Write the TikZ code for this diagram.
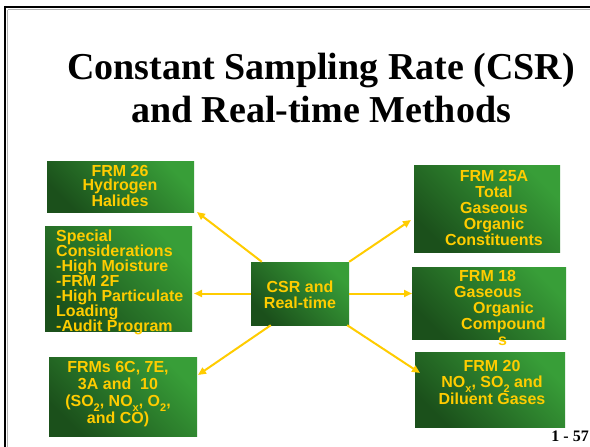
\documentclass[tikz,border=0pt]{standalone}
\usepackage{fontspec}
\setmainfont{Liberation Serif}
\newfontfamily\boxfont{Liberation Sans}
\usetikzlibrary{arrows.meta,calc}
\definecolor{gold}{RGB}{255,204,0}
\definecolor{gdark}{RGB}{27,80,27}
\definecolor{glight}{RGB}{56,158,56}
\newcommand{\mysub}[1]{\raisebox{-0.28em}{\fontsize{11}{11}\selectfont #1}}
\tikzset{
  gbox/.style={rectangle, inner sep=0pt, top color=glight, bottom color=gdark, shading angle=-45, draw=none},
  btxt/.style={inner sep=0pt, text=gold, font=\boxfont\bfseries\fontsize{16}{16}\selectfont},
  conn/.style={draw=gold, line width=2pt, -{Triangle[length=8pt,width=7pt]}},
  ttl/.style={inner sep=0pt, anchor=base, font=\bfseries\fontsize{38}{43}\selectfont}
}
\begin{document}
\begin{tikzpicture}[x=1pt,y=-1pt]
\useasboundingbox (0,0) rectangle (590,447);
\fill[white] (0,0) rectangle (590,447);
% frame
\draw[gray!60, line width=1pt] (7.5,9.5) -- (590,9.5);
\draw[gray!60, line width=1pt] (7.5,9.5) -- (7.5,447);
\draw[black, line width=2.5pt] (4,7) -- (590,7);
\draw[black, line width=2.5pt] (5.2,5.8) -- (5.2,447);

% title
\node[ttl] (title1) at (321,79) {Constant Sampling Rate (CSR)};
\node[ttl] (title2) at (321,122) {and Real-time Methods};

% boxes
\node[gbox, minimum width=98pt, minimum height=63pt] (csr) at (300,293.5) {};
\node[gbox, minimum width=147pt, minimum height=51pt] (b1) at (120.5,186.5) {};
\node[gbox, minimum width=147pt, minimum height=105pt] (b2) at (118.5,278.5) {};
\node[gbox, minimum width=148pt, minimum height=79pt] (b3) at (123,396.5) {};
\node[gbox, minimum width=146pt, minimum height=87pt] (b4) at (487,208.5) {};
\node[gbox, minimum width=154pt, minimum height=72pt] (b5) at (489,303) {};
\node[gbox, minimum width=150pt, minimum height=75pt] (b6) at (490,389.5) {};

% texts
\node[btxt, anchor=north, align=center, font=\boxfont\bfseries\fontsize{16}{16}\selectfont] (t0) at (300,280.4) {CSR and\\Real-time};
\node[btxt, anchor=north, align=center, font=\boxfont\bfseries\fontsize{16}{13.5}\selectfont] (t1) at (120,165.4) {FRM 26\\Hydrogen\\Halides};
\node[btxt, anchor=north west, align=left, font=\boxfont\bfseries\fontsize{16}{15}\selectfont] (t2) at (56,229.4) {Special\\Considerations\\-High Moisture\\-FRM 2F\\-High Particulate\\Loading\\-Audit Program};
\node[btxt, anchor=north, align=center, font=\boxfont\bfseries\fontsize{16}{17}\selectfont] (t3) at (118,361.4) {FRMs 6C, 7E,\\3A and~~10\\(SO\mysub{2}, NO\mysub{x}, O\mysub{2},\\and CO)};
\node[btxt, anchor=north, align=center, font=\boxfont\bfseries\fontsize{16}{16}\selectfont] (t4) at (494,170.4) {FRM 25A\\Total\\Gaseous\\Organic\\Constituents};
\node[btxt, anchor=north west, align=left, font=\boxfont\bfseries\fontsize{16}{16}\selectfont] (t5) at (454,270.4) {\hspace*{5pt}FRM 18\\Gaseous\\\hspace*{19pt}Organic\\\hspace*{7pt}Compound\\\hspace*{44pt}s};
\node[btxt, anchor=north, align=center, font=\boxfont\bfseries\fontsize{16}{16}\selectfont] (t6) at (492,360.4) {FRM 20\\NO\mysub{x}, SO\mysub{2} and\\Diluent Gases};

% connectors
\coordinate (p1) at (197,212);
\coordinate (p2) at (194,293.5);
\coordinate (p3) at (198,375);
\coordinate (p4) at (411,220);
\coordinate (p5) at (412,293.5);
\coordinate (p6) at (420,373);
\draw[conn] ($(csr.north west)+(11,0)$) -- (p1);
\draw[conn] (csr.west) -- (p2);
\draw[conn] ($(csr.south west)+(20,0)$) -- (p3);
\draw[conn] (csr.north east) -- (p4);
\draw[conn] (csr.east) -- (p5);
\draw[conn] ($(csr.south east)+(-2,0)$) -- (p6);

% footer
\node[inner sep=0pt, anchor=base east, font=\bfseries\fontsize{16}{16}\selectfont] (pg) at (589,441) {1 - 57};
\end{tikzpicture}
\end{document}
